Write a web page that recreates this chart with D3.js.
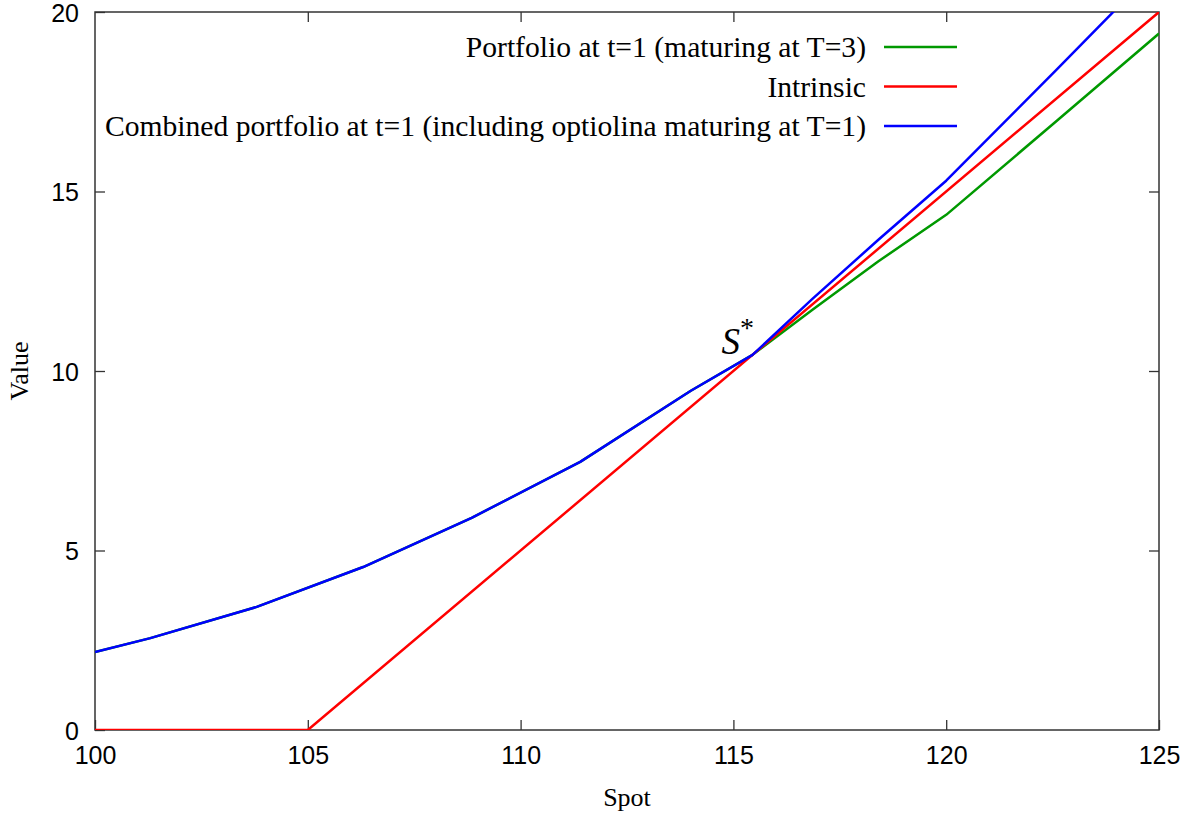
<!DOCTYPE html>
<html>
<head>
<meta charset="utf-8">
<script src="https://cdn.jsdelivr.net/npm/d3@7"></script>
<style>
  body { margin: 0; background: #fff; }
  svg text { fill: #000; }
</style>
</head>
<body>
<div id="chart"></div>
<script>
// spot grid of the sampled portfolio curves
var spot = [100, 101.3, 103.8, 106.3, 108.85, 111.4, 114.0, 115.45, 116.85, 118.4, 120.0, 122.6, 125];
var portfolioT3 = [2.17, 2.56, 3.43, 4.54, 5.91, 7.47, 9.45, 10.45, 11.7, 13.05, 14.35, 16.97, 19.4];
var combined = [2.17, 2.56, 3.43, 4.54, 5.91, 7.47, 9.45, 10.45, 12.0, 13.65, 15.3, 18.4, 21.3];
// intrinsic payoff, max(S - 105, 0)
var intrinsicSpot = [100, 105, 125];
var intrinsicValue = [0, 0, 20];

var xTicks = [100, 105, 110, 115, 120, 125];
var yTicks = [0, 5, 10, 15, 20];
var seriesNames = ["Portfolio at t=1 (maturing at T=3)", "Intrinsic",
    "Combined portfolio at t=1 (including optiolina maturing at T=1)"];
var seriesColours = ["#009900", "#ff0000", "#0000ff"];
var starSpot = 115.45, starValue = 10.45;

var width = 1191, height = 814;
var margin = {left: 95, right: 32, top: 12, bottom: 84};

var svg = d3.select("#chart").append("svg")
    .attr("width", width)
    .attr("height", height);

var x = d3.scaleLinear().domain([100, 125]).range([margin.left, width - margin.right]);
var y = d3.scaleLinear().domain([0, 20]).range([height - margin.bottom, margin.top]);

svg.append("clipPath").attr("id", "plotClip")
    .append("rect")
    .attr("x", margin.left).attr("y", margin.top)
    .attr("width", x(125) - x(100)).attr("height", y(0) - y(20));

var tickLen = 10;
var sansFont = "'Liberation Sans', Arial, sans-serif";
var serifFont = "'Liberation Serif', 'Times New Roman', serif";

// axes: inward ticks on all four sides, like gnuplot's mirrored border
var bottomAxis = d3.axisBottom(x).tickValues(xTicks).tickSizeInner(-tickLen).tickSizeOuter(0).tickPadding(16);
var topAxis = d3.axisTop(x).tickValues(xTicks.slice(1, -1)).tickSizeInner(-tickLen).tickSizeOuter(0).tickFormat("");
var leftAxis = d3.axisLeft(y).tickValues(yTicks).tickSizeInner(-tickLen).tickSizeOuter(0).tickPadding(16);
var rightAxis = d3.axisRight(y).tickValues(yTicks.slice(1, -1)).tickSizeInner(-tickLen).tickSizeOuter(0).tickFormat("");

function styleAxis(g){
    g.select(".domain").remove();
    g.selectAll(".tick line").attr("stroke", "#333").attr("stroke-width", 1.3);
    g.selectAll(".tick text").attr("font-family", sansFont).attr("font-size", 25).attr("fill", "#000");
}

svg.append("g").attr("transform", "translate(0," + y(0) + ")").call(bottomAxis).call(styleAxis)
    .selectAll(".tick text").attr("dy", "0.71em");
svg.append("g").attr("transform", "translate(0," + y(20) + ")").call(topAxis).call(styleAxis);
svg.append("g").attr("transform", "translate(" + x(100) + ",0)").call(leftAxis).call(styleAxis)
    .selectAll(".tick text").attr("dy", "0.36em");
svg.append("g").attr("transform", "translate(" + x(125) + ",0)").call(rightAxis).call(styleAxis);

// frame
svg.append("rect")
    .attr("x", x(100)).attr("y", y(20))
    .attr("width", x(125) - x(100)).attr("height", y(0) - y(20))
    .attr("fill", "none").attr("stroke", "#333").attr("stroke-width", 1.5);

// axis titles
svg.append("text")
    .attr("x", (x(100) + x(125)) / 2).attr("y", 806)
    .attr("text-anchor", "middle")
    .attr("font-family", serifFont).attr("font-size", 26)
    .text("Spot");
svg.append("text")
    .attr("transform", "translate(28," + y(10) + ") rotate(-90)")
    .attr("text-anchor", "middle")
    .attr("font-family", serifFont).attr("font-size", 26)
    .text("Value");

// curves
var line = d3.line().x(function(d){ return x(d[0]); }).y(function(d){ return y(d[1]); });
var curves = [
    d3.zip(spot, portfolioT3),
    d3.zip(intrinsicSpot, intrinsicValue),
    d3.zip(spot, combined)
];
var plot = svg.append("g").attr("clip-path", "url(#plotClip)");
curves.forEach(function(pts, i){
    plot.append("path")
        .attr("d", line(pts))
        .attr("fill", "none")
        .attr("stroke", seriesColours[i])
        .attr("stroke-width", 2.5)
        .attr("stroke-linejoin", "round");
});

// S* annotation
var star = svg.append("text")
    .attr("x", x(starSpot) - 31).attr("y", y(starValue) - 1)
    .attr("font-family", serifFont).attr("font-size", 37);
star.append("tspan").attr("font-style", "italic").text("S");
star.append("tspan").attr("dy", -17).attr("font-size", 28).text("*");

// legend, top right, text right-aligned in front of the sample line
var legend = svg.append("g");
seriesNames.forEach(function(name, i){
    var ly = 47 + i * 39.5;
    legend.append("text")
        .attr("x", 866).attr("y", ly)
        .attr("dy", "0.35em")
        .attr("text-anchor", "end")
        .attr("font-family", serifFont).attr("font-size", 29.6)
        .text(name);
    legend.append("line")
        .attr("x1", 884).attr("x2", 957)
        .attr("y1", ly).attr("y2", ly)
        .attr("stroke", seriesColours[i]).attr("stroke-width", 2.5);
});
</script>
</body>
</html>
